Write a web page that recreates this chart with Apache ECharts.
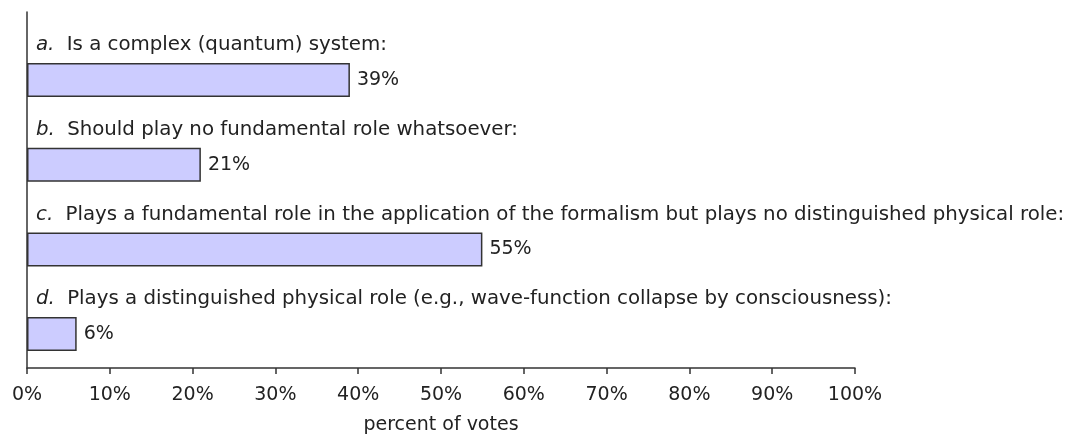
<!DOCTYPE html>
<html>
<head>
<meta charset="utf-8">
<script src="https://cdn.jsdelivr.net/npm/echarts@6/dist/echarts.min.js"></script>
<style>
  html, body { margin: 0; padding: 0; background: #fff; }
  #chart { width: 1074px; height: 437px; }
</style>
</head>
<body>
<div id="chart"></div>
<script>
// data
const letters = ['a', 'b', 'c', 'd'];
const questions = [
    'Is a complex (quantum) system:',
    'Should play no fundamental role whatsoever:',
    'Plays a fundamental role in the application of the formalism but plays no distinguished physical role:',
    'Plays a distinguished physical role (e.g., wave-function collapse by consciousness):'
];
const votes = [39, 21, 55, 6];
const xTicks = [0, 10, 20, 30, 40, 50, 60, 70, 80, 90, 100];

const font = 'DejaVu Sans';
const fontSize = 19;
const textColor = '#222';
const lineColor = '#333';

let myChart = echarts.init(document.getElementById('chart'));

const option = {
    backgroundColor: '#fff',
    animation: false,
    textStyle: { fontFamily: font, color: textColor },
    grid: [
        // axes frame
        { left: 27, right: 219, top: 12, bottom: 69, outerBoundsMode: 'none' },
        // bars
        { left: 27, right: 219, top: 37.7, bottom: 60.6, outerBoundsMode: 'none' }
    ],
    xAxis: [
        {
            gridIndex: 0,
            type: 'value',
            min: xTicks[0],
            max: xTicks[xTicks.length - 1],
            interval: 10,
            axisLine: { show: true, lineStyle: { color: lineColor, width: 1.5 } },
            axisTick: { show: true, inside: false, length: 6, lineStyle: { color: lineColor, width: 1.5 } },
            splitLine: { show: false },
            axisLabel: {
                formatter: '{value}%',
                fontFamily: font,
                fontSize: fontSize,
                color: textColor,
                margin: 18
            },
            name: 'percent of votes',
            nameLocation: 'middle',
            nameGap: 48,
            nameTextStyle: { fontFamily: font, fontSize: fontSize, color: textColor }
        },
        {
            gridIndex: 1,
            type: 'value',
            min: 0,
            max: 100,
            show: false
        }
    ],
    yAxis: [
        {
            gridIndex: 0,
            type: 'value',
            axisLine: { show: true, lineStyle: { color: lineColor, width: 1.5 } },
            axisTick: { show: false },
            axisLabel: { show: false },
            splitLine: { show: false }
        },
        {
            gridIndex: 1,
            type: 'category',
            inverse: true,
            data: questions,
            axisLine: { show: false },
            axisTick: { show: false },
            splitLine: { show: false },
            axisLabel: {
                show: true,
                inside: true,
                margin: 9,
                align: 'left',
                verticalAlign: 'middle',
                padding: [0, 0, 70, 0],
                fontFamily: font,
                fontSize: 19.8,
                color: textColor,
                formatter: function (v, i) {
                    return '{i|' + letters[i] + '.} ' + v;
                },
                rich: {
                    i: { fontStyle: 'italic', fontFamily: font, fontSize: 19.8, color: textColor, padding: [0, 6, 0, 0] }
                }
            }
        }
    ],
    series: [
        {
            type: 'bar',
            xAxisIndex: 1,
            yAxisIndex: 1,
            data: votes,
            barWidth: 34,
            itemStyle: {
                color: '#ccccff',
                borderColor: lineColor,
                borderWidth: 1.5
            },
            label: {
                show: true,
                position: 'right',
                distance: 7,
                formatter: '{c}%',
                fontFamily: font,
                fontSize: fontSize,
                color: textColor
            }
        }
    ]
};

myChart.setOption(option, true);
window.onresize = function() {
    myChart.resize();
};
</script>
</body>
</html>
